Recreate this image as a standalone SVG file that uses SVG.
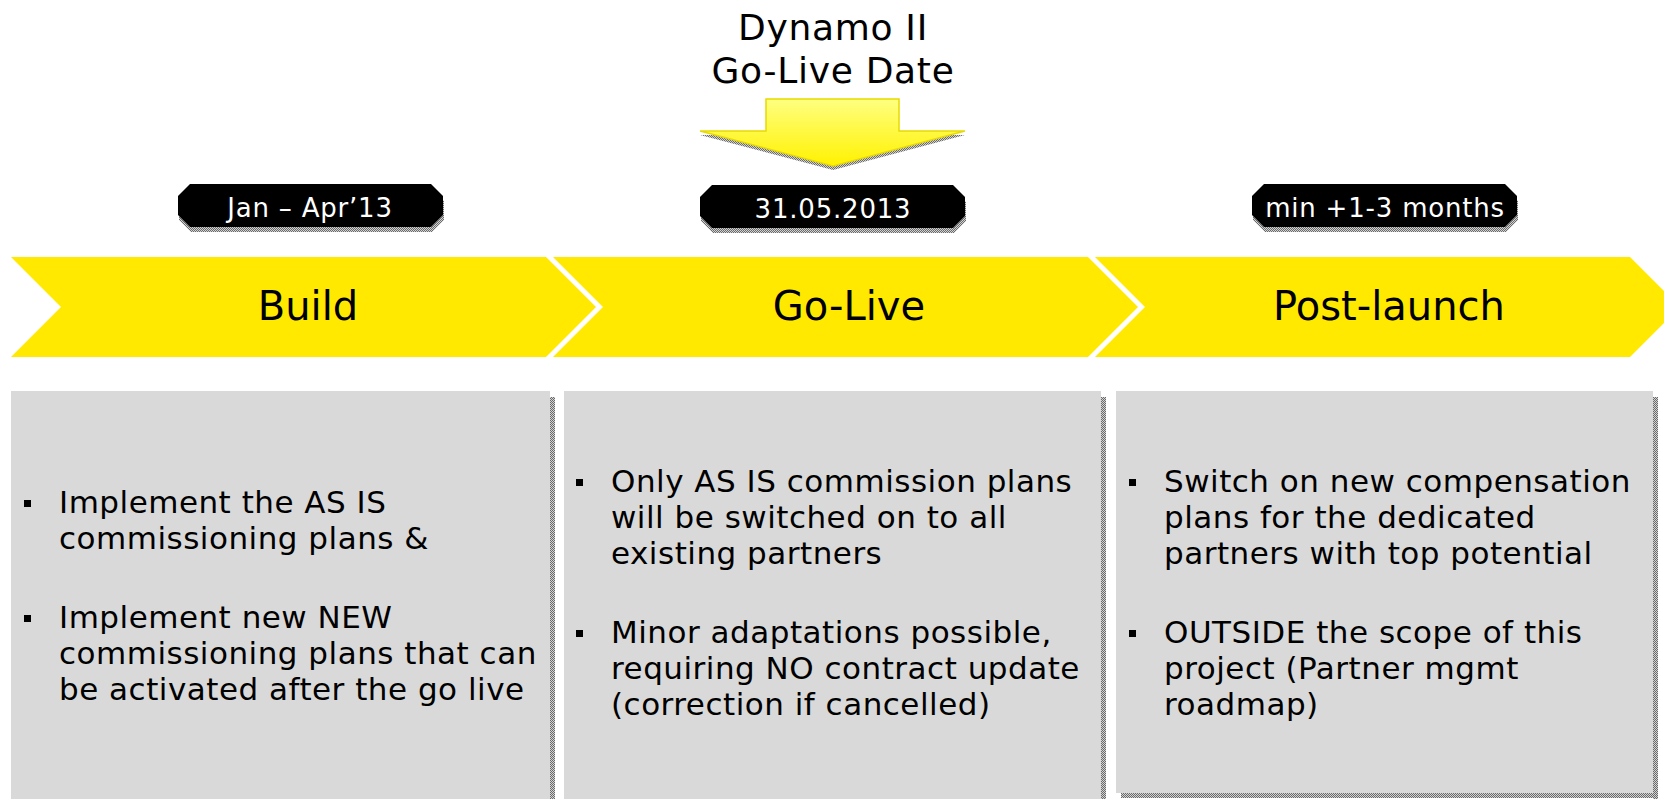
<svg xmlns="http://www.w3.org/2000/svg" width="1664" height="799" viewBox="0 0 1664 799">
  <defs>
    <!-- dithered drop shadow -->
    <pattern id="dither" width="2" height="2" patternUnits="userSpaceOnUse">
      <rect width="2" height="2" fill="#d2d2d2"/>
      <rect width="1" height="1" fill="#6a6a6a"/>
      <rect x="1" y="1" width="1" height="1" fill="#6a6a6a"/>
    </pattern>
    <linearGradient id="arrowFill" x1="0" y1="0" x2="0" y2="1">
      <stop offset="0" stop-color="#ffff80"/>
      <stop offset="1" stop-color="#fff200"/>
    </linearGradient>
    <!-- chamfered date tag, origin at its top-left corner -->
    <polygon id="tagShape" points="12,0 253,0 265,12 265,31 253,43 12,43 0,31 0,12"/>
    <polygon id="arrowShape" points="766,99 899,99 899,131 965,131 833,166 700,131 766,131"/>
  </defs>
  <style>
    .chev { fill: #ffe900; }
    .chevText { font-family: "DejaVu Sans", Verdana, sans-serif; font-size: 40px; fill: #000; text-anchor: middle; }
    .tag { fill: #000; }
    .tagShadow { fill: url(#dither); }
    .tagText { font-family: "DejaVu Sans", Verdana, sans-serif; font-size: 26px; letter-spacing: 0.8px; fill: #fff; text-anchor: middle; }
    .title { font-family: "DejaVu Sans", Verdana, sans-serif; font-size: 36px; letter-spacing: 0.7px; fill: #000; text-anchor: middle; }
    .box { fill: #d9d9d9; }
    .boxShadow { fill: url(#dither); }
    .body { font-family: "DejaVu Sans", Verdana, sans-serif; font-size: 31px; letter-spacing: 0.5px; fill: #000; }
    .bullet { fill: #000; }
  </style>

  <rect width="1664" height="799" fill="#ffffff"/>

  <!-- headline above the go-live marker -->
  <g id="title">
    <text class="title" x="833" y="40">Dynamo II</text>
    <text class="title" x="833" y="83">Go-Live Date</text>
  </g>

  <!-- downward pointer onto the go-live date -->
  <g id="connectors">
    <use href="#arrowShape" transform="translate(0,4)" fill="url(#dither)"/>
    <use href="#arrowShape" fill="url(#arrowFill)" stroke="#e8da00" stroke-width="1.5" stroke-linejoin="miter"/>
  </g>

  <!-- date tags -->
  <g id="tag-build">
    <use href="#tagShape" class="tagShadow" transform="translate(179,189)"/>
    <use href="#tagShape" class="tag" transform="translate(178,184)"/>
    <text class="tagText" x="310" y="217">Jan – Apr’13</text>
  </g>
  <g id="tag-golive">
    <use href="#tagShape" class="tagShadow" transform="translate(701,190)"/>
    <use href="#tagShape" class="tag" transform="translate(700,185)"/>
    <text class="tagText" x="833" y="218">31.05.2013</text>
  </g>
  <g id="tag-postlaunch">
    <use href="#tagShape" class="tagShadow" transform="translate(1253,189)"/>
    <use href="#tagShape" class="tag" transform="translate(1252,184)"/>
    <text class="tagText" x="1385" y="217">min +1-3 months</text>
  </g>

  <!-- phase chevrons -->
  <g id="phase-build">
    <polygon class="chev" points="11,257 546,257 596,307 546,357 11,357 61,307"/>
    <text class="chevText" x="308" y="320">Build</text>
  </g>
  <g id="phase-golive">
    <polygon class="chev" points="553,257 1088,257 1138,307 1088,357 553,357 603,307"/>
    <text class="chevText" x="849" y="320">Go-Live</text>
  </g>
  <g id="phase-postlaunch">
    <polygon class="chev" points="1095,257 1630,257 1680,307 1630,357 1095,357 1145,307"/>
    <text class="chevText" x="1389" y="320">Post-launch</text>
  </g>

  <!-- detail boxes -->
  <g id="box-build">
    <rect class="boxShadow" x="550" y="397" width="5" height="402"/>
    <rect class="box" x="11" y="391" width="539" height="408"/>
    <rect class="bullet" x="24" y="500" width="7" height="7"/>
    <text class="body" x="59" y="513">Implement the AS IS</text>
    <text class="body" x="59" y="549">commissioning plans &amp;</text>
    <rect class="bullet" x="24" y="615" width="7" height="7"/>
    <text class="body" x="59" y="628">Implement new NEW</text>
    <text class="body" x="59" y="664">commissioning plans that can</text>
    <text class="body" x="59" y="700">be activated after the go live</text>
  </g>
  <g id="box-golive">
    <rect class="boxShadow" x="1101" y="397" width="5" height="402"/>
    <rect class="box" x="564" y="391" width="537" height="408"/>
    <rect class="bullet" x="576" y="479" width="7" height="7"/>
    <text class="body" x="611" y="492">Only AS IS commission plans</text>
    <text class="body" x="611" y="528">will be switched on to all</text>
    <text class="body" x="611" y="564">existing partners</text>
    <rect class="bullet" x="576" y="630" width="7" height="7"/>
    <text class="body" x="611" y="643">Minor adaptations possible,</text>
    <text class="body" x="611" y="679">requiring NO contract update</text>
    <text class="body" x="611" y="715">(correction if cancelled)</text>
  </g>
  <g id="box-postlaunch">
    <rect class="boxShadow" x="1653" y="397" width="5" height="402"/>
    <rect class="boxShadow" x="1121" y="793" width="537" height="5"/>
    <rect class="box" x="1116" y="391" width="537" height="402"/>
    <rect class="bullet" x="1129" y="479" width="7" height="7"/>
    <text class="body" x="1164" y="492">Switch on new compensation</text>
    <text class="body" x="1164" y="528">plans for the dedicated</text>
    <text class="body" x="1164" y="564">partners with top potential</text>
    <rect class="bullet" x="1129" y="630" width="7" height="7"/>
    <text class="body" x="1164" y="643">OUTSIDE the scope of this</text>
    <text class="body" x="1164" y="679">project (Partner mgmt</text>
    <text class="body" x="1164" y="715">roadmap)</text>
  </g>
</svg>
